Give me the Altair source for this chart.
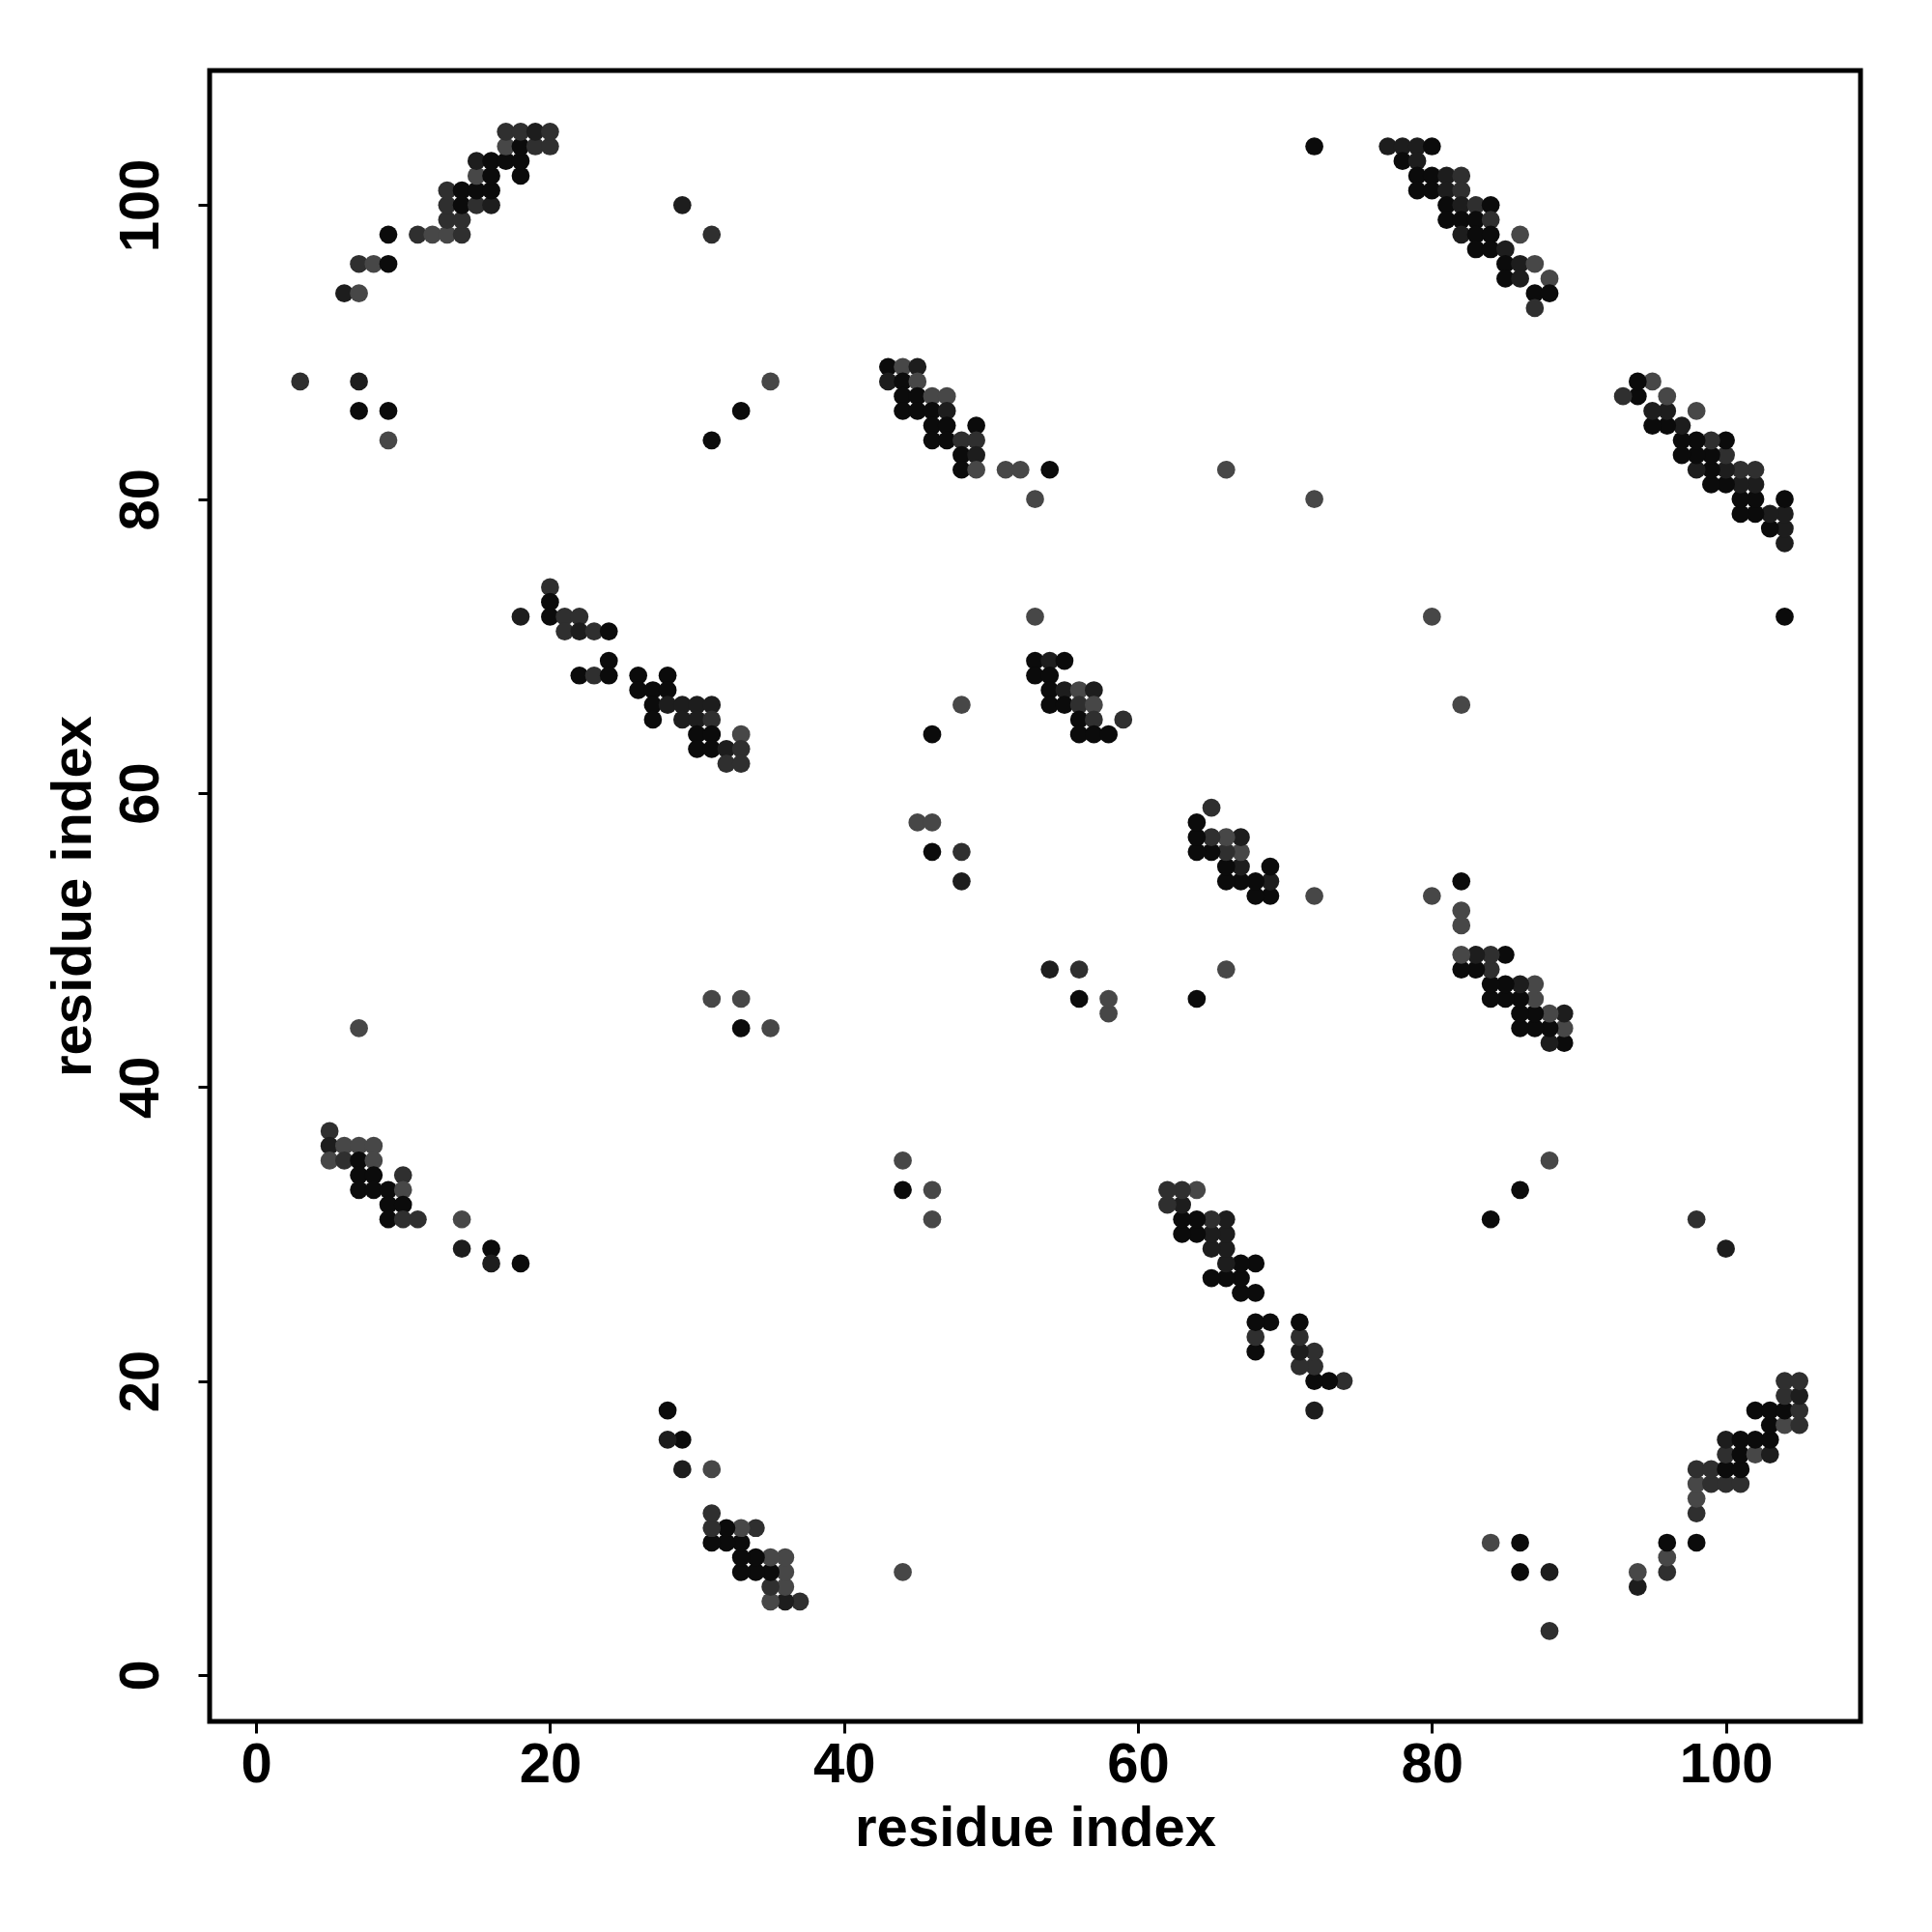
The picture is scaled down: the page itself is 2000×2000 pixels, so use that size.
import altair as alt
import pandas as pd

# Contact map is symmetric: only the upper triangle (i < j) is listed, shade 0=black .. 3=gray
A_i = [6,7,7,8,9,9,11,12,13,14,13,14,13,14,15,16,13,14,15,16,15,16,18,15,16,17,18,17,18,19,20,17,18,19,20]
A_j = [94,94,96,96,96,98,98,98,98,98,99,99,100,100,100,100,101,101,101,101,102,102,102,103,103,103,103,104,104,104,104,105,105,105,105]
A_s = [1,3,2,3,0,0,2,3,3,2,2,2,2,0,2,1,2,0,0,0,3,0,0,1,0,0,0,3,0,2,2,2,2,1,2]

S_i = [3,7,7,9,9,29,31,35,33,31,72,66,72,7,31,33,33,35,46,48,45,46,46,48,48]
S_j = [88,88,86,86,84,100,98,88,86,84,104,82,80,44,46,46,44,44,64,66,58,58,56,56,54]
S_s = [2,1,0,0,3,1,2,3,0,0,0,3,3,3,3,3,0,3,0,3,3,3,0,2,1]

B_i = [43,44,45,43,44,45,44,45,46,47,44,45,46,47,46,47,49,46,47,48,49,48,49,48,49,51,52,54,53]
B_j = [89,89,89,88,88,88,87,87,87,87,86,86,86,86,85,85,85,84,84,84,84,83,83,82,82,82,82,82,80]
B_s = [0,3,1,1,0,3,0,0,3,3,0,0,0,1,0,0,0,0,0,2,2,0,1,0,3,3,3,0,3]

C_i = [77,78,79,80,78,79,79,80,81,82,79,80,81,82,81,82,83,84,81,82,83,84,82,83,84,86,83,84,85,85,86,87,85,86,88,87,88,87]
C_j = [104,104,104,104,103,103,102,102,102,102,101,101,101,101,100,100,100,100,99,99,99,99,98,98,98,98,97,97,97,96,96,96,95,95,95,94,94,93]
C_s = [1,1,1,0,0,1,0,0,1,2,0,0,1,2,0,1,2,0,0,0,0,2,1,0,0,3,0,0,1,0,1,3,0,1,3,0,0,2]

D_i = [18,20,20,20,21,22,21,22,23,24,24,22,23,24,26,28,26,27,28,27,28,29,30,31,27,29,30,31,30,31,33,30,31,32,33,32,33]
D_j = [72,74,73,72,72,72,71,71,71,71,69,68,68,68,68,68,67,67,67,66,66,66,66,66,65,65,65,65,64,64,64,63,63,63,63,62,62]
D_s = [1,2,0,0,2,2,2,1,2,0,0,0,2,0,0,0,0,0,0,0,1,1,1,1,0,1,1,2,0,0,3,0,0,1,2,2,2]

E_i = [53,53,54,55,53,54,54,55,56,57,54,55,56,57,56,57,59,56,57,58]
E_j = [72,69,69,69,68,68,67,67,67,67,66,66,66,66,65,65,65,64,64,64]
E_s = [3,0,1,0,0,0,0,1,3,1,0,0,2,3,0,2,2,0,0,0]

F_i = [5,5,6,7,8,5,6,7,8,7,8,10,7,8,9,10,9,10,9,10,11,14,14,16,16,18]
F_j = [37,36,36,36,36,35,35,35,35,34,34,34,33,33,33,33,32,32,31,31,31,31,29,29,28,28]
F_s = [2,1,3,3,3,3,2,0,3,0,0,2,0,0,0,3,0,0,0,2,2,3,1,0,1,0]

shade_colors = ["#0b0b0b", "#1d1d1d", "#2f2f2f", "#474747"]
tick_values = [0, 20, 40, 60, 80, 100]

ii = A_i + S_i + B_i + C_i + D_i + E_i + F_i
jj = A_j + S_j + B_j + C_j + D_j + E_j + F_j
ss = A_s + S_s + B_s + C_s + D_s + E_s + F_s
upper = pd.DataFrame({"x": ii, "y": jj, "s": ss})
lower = pd.DataFrame({"x": jj, "y": ii, "s": ss})
df = pd.concat([upper, lower], ignore_index=True)

FONT = "Liberation Sans"
dom = [-3.16, 109.16]

chart = alt.Chart(df).mark_circle(size=350, opacity=1).encode(
    x=alt.X("x:Q", scale=alt.Scale(domain=dom, nice=False, zero=False),
            axis=alt.Axis(values=tick_values, title="residue index", grid=False, domain=False,
                          tickSize=12, tickWidth=3, tickColor="black",
                          labelFont=FONT, labelFontSize=58, labelFontWeight="bold", labelColor="black",
                          labelPadding=4, labelFlush=False,
                          titleFont=FONT, titleFontSize=58, titleFontWeight="bold", titleColor="black",
                          titlePadding=8)),
    y=alt.Y("y:Q", scale=alt.Scale(domain=dom, nice=False, zero=False),
            axis=alt.Axis(values=tick_values, title="residue index", grid=False, domain=False,
                          tickSize=12, tickWidth=3, tickColor="black",
                          labelFont=FONT, labelFontSize=58, labelFontWeight="bold", labelColor="black",
                          labelAngle=270, labelAlign="center", labelBaseline="bottom",
                          labelPadding=30, labelFlush=False,
                          titleFont=FONT, titleFontSize=58, titleFontWeight="bold", titleColor="black",
                          titlePadding=12)),
    color=alt.Color("s:O", scale=alt.Scale(domain=[0, 1, 2, 3], range=shade_colors), legend=None),
).properties(
    width=1709, height=1709,
    autosize=alt.AutoSizeParams(type="none"),
    padding={"left": 209, "top": 65, "right": 60, "bottom": 200},
).configure_view(
    stroke="black", strokeWidth=5
)

chart.save("out.html", embed_options={"renderer": "svg", "actions": False})
